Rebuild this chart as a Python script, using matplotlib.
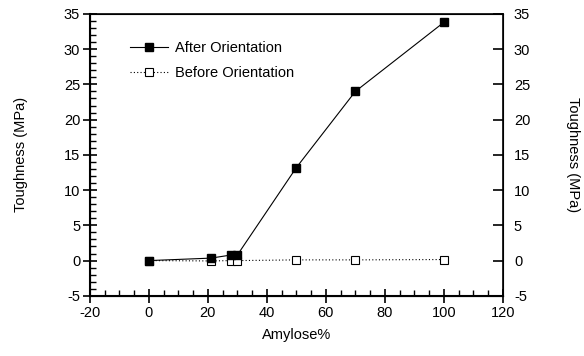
import numpy as np
import matplotlib.pyplot as plt
from matplotlib.ticker import MultipleLocator

amylose = [0, 21, 28, 30, 50, 70, 100]
after_orientation = [0.0, 0.35, 0.8, 0.8, 13.2, 24.0, 33.8]
before_orientation = [0.0, -0.05, 0.0, 0.0, 0.1, 0.1, 0.15]

plt.rcParams.update({
    "font.family": "Liberation Sans",
    "font.size": 10.5,
    "axes.unicode_minus": False,
})

fig = plt.figure(figsize=(5.84, 3.56), dpi=100)
ax = fig.add_axes([0.154, 0.169, 0.707, 0.792])

ax.plot(amylose, after_orientation, color="black", linewidth=0.8,
        marker="s", markersize=6, markerfacecolor="black",
        markeredgecolor="black", label="After Orientation", zorder=3)
ax.plot(amylose, before_orientation, color="black", linewidth=0.8,
        linestyle=(0, (1, 2)), marker="s", markersize=6,
        markerfacecolor="white", markeredgecolor="black",
        markeredgewidth=0.8, label="Before Orientation", zorder=2)

ax.set_xlim(-20, 120)
ax.set_ylim(-5, 35)
ax.xaxis.set_major_locator(MultipleLocator(20))
ax.xaxis.set_minor_locator(MultipleLocator(5))
ax.yaxis.set_major_locator(MultipleLocator(5))
ax.yaxis.set_minor_locator(MultipleLocator(1))

ax.tick_params(axis="both", which="major", direction="inout", length=10,
               width=1.2, labelsize=10.5, pad=2)
ax.tick_params(axis="both", which="minor", direction="in", length=4, width=1)
for side in ["left", "bottom"]:
    ax.spines[side].set_linewidth(1.5)
for side in ["top", "right"]:
    ax.spines[side].set_linewidth(1.2)

ax.set_xlabel("Amylose%", fontsize=10.5, labelpad=6)
ax.set_ylabel("Toughness (MPa)", fontsize=10.5, labelpad=26)

# mirrored scale on the right side
ax2 = ax.twinx()
ax2.set_ylim(ax.get_ylim())
ax2.yaxis.set_major_locator(MultipleLocator(5))
ax2.tick_params(axis="y", which="major", direction="in", length=7,
                width=1.2, labelsize=10.5, pad=8)
ax2.set_ylabel("Toughness (MPa)", fontsize=10.5, rotation=-90, labelpad=36)

ax.legend(loc="upper left", bbox_to_anchor=(0.065, 0.95), frameon=False,
          handlelength=2.6, handletextpad=0.5, labelspacing=0.75, fontsize=10.5)

fig.savefig("out.png", dpi=100)
